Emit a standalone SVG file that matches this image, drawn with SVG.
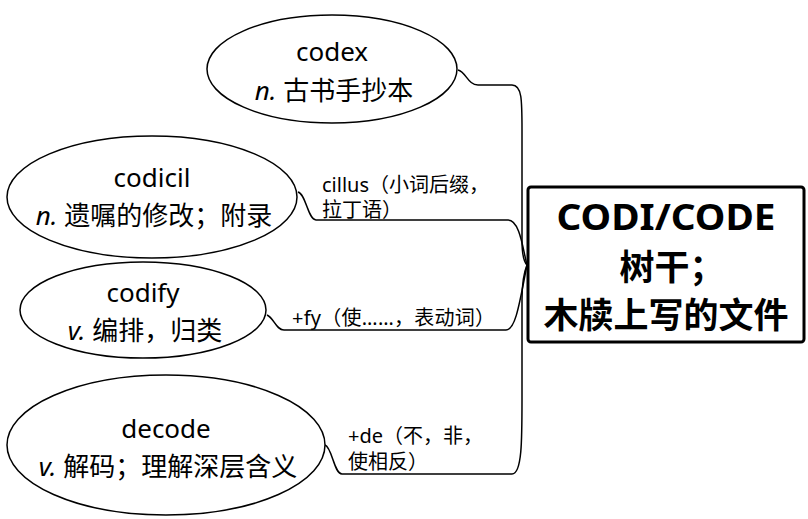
<svg xmlns="http://www.w3.org/2000/svg" width="808" height="519" viewBox="0 0 808 519">
<style>
.node ellipse{fill:#fff;stroke:#000;stroke-width:1.5}
.t{font-family:"Noto Sans","Noto Sans CJK SC",sans-serif;font-size:26px;fill:#000;text-anchor:middle}
.lbl{font-family:"Noto Sans","Noto Sans CJK SC",sans-serif;font-size:20px;fill:#000}
.conn path{fill:none;stroke:#000;stroke-width:1.5}
.root rect{fill:#fff;stroke:#000;stroke-width:3}
.rt{font-family:"Noto Sans","Noto Sans CJK SC",sans-serif;font-size:35px;font-weight:bold;fill:#000;text-anchor:middle}
</style>
<rect width="808" height="519" fill="#fff"/>
<g id="connectors" class="conn">
<path d="M458,70 C466,72 468,85 478,85 L512,85 C522,85 522,100 522,130 L522,240 C522,255 524,262 527,265"/>
<path d="M298,192 C306,194 308,220 316,220 L508,220 C520,220 523,250 527,265"/>
<path d="M267,315 C274,318 276,330 284,330 L506,330 C516,330 520,300 527,265"/>
<path d="M325,445 C332,447 334,474 342,474 L512,474 C522,474 522,440 522,400 L522,300 C522,285 524,272 527,265"/>
</g>
<g id="label-cillus"><text class="lbl" x="322" y="192">cillus（小词后缀，</text><text class="lbl" x="322" y="217">拉丁语）</text></g>
<g id="label-fy"><text class="lbl" x="292" y="325" textLength="203" lengthAdjust="spacing">+fy（使……，表动词）</text></g>
<g id="label-de"><text class="lbl" x="348" y="443">+de（不，非，</text><text class="lbl" x="348" y="469">使相反）</text></g>
<g id="codex" class="node"><ellipse cx="332" cy="69" rx="125" ry="54"/><text class="t" x="332" y="61">codex</text><text class="t" x="334" y="100"><tspan font-style="italic">n.</tspan> 古书手抄本</text></g>
<g id="codicil" class="node"><ellipse cx="152" cy="197" rx="145" ry="61"/><text class="t" x="152" y="187">codicil</text><text class="t" x="154" y="225"><tspan font-style="italic">n.</tspan> 遗嘱的修改；附录</text></g>
<g id="codify" class="node"><ellipse cx="143" cy="310" rx="123" ry="48"/><text class="t" x="143" y="302">codify</text><text class="t" x="145" y="340"><tspan font-style="italic">v.</tspan> 编排，归类</text></g>
<g id="decode" class="node"><ellipse cx="166" cy="445" rx="159" ry="70"/><text class="t" x="166" y="438">decode</text><text class="t" x="168" y="476"><tspan font-style="italic">v.</tspan> 解码；理解深层含义</text></g>
<g id="root" class="root"><rect x="528" y="187" width="276" height="155" rx="3"/><text class="rt" x="666" y="230" textLength="219" lengthAdjust="spacingAndGlyphs">CODI/CODE</text><text class="rt" x="672" y="280">树干；</text><text class="rt" x="666" y="328">木牍上写的文件</text></g>
</svg>
